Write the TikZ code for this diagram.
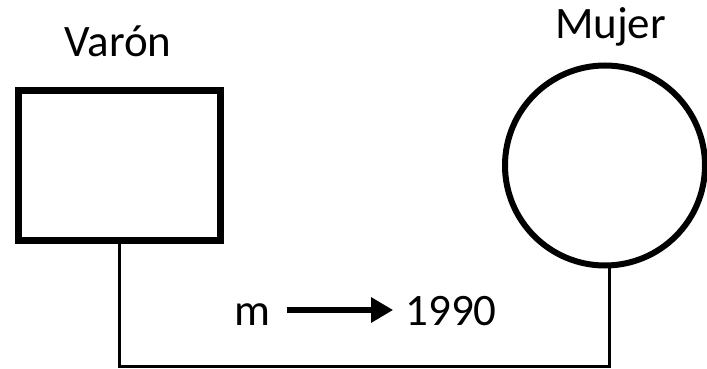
\documentclass[tikz,border=0pt]{standalone}
\usepackage{fontspec}
\setmainfont{Carlito}
\usetikzlibrary{arrows.meta,calc}
\tikzset{
  lbl/.style={anchor=base, inner sep=0pt, font=\fontsize{45}{54}\selectfont},
  male/.style={draw, line width=7pt, rectangle, minimum width=202pt, minimum height=150pt, inner sep=0pt, outer sep=0pt},
  female/.style={draw, line width=6pt, circle, minimum size=200pt, inner sep=0pt, outer sep=0pt},
  conn/.style={line width=3pt},
  marr/.style={line width=6pt, -{Triangle[length=22pt,width=24pt]}}
}
\begin{document}
\begin{tikzpicture}[x=1pt,y=-1pt]
\useasboundingbox (0,0) rectangle (707,369);
% shapes
\node[male] (sq) at (119.5,165.5) {};
\node[female] (circ) at (605,165.5) {};
% labels
\node[lbl] (lv) at (118,57) {Varón};
\node[lbl] (lm) at (610.5,39) {Mujer};
% marriage line
\coordinate (bot) at (120,366);
\draw[conn] (sq.south) |- (bot) -| ([xshift=4pt]circ.south);
% date label
\node[lbl] (m) at (252,325) {m};
\node[lbl] (yr) at (451,325) {1990};
\draw[marr] ([xshift=17pt,yshift=15pt]m.base east) -- ([xshift=-12pt,yshift=15pt]yr.base west);
\end{tikzpicture}
\end{document}
